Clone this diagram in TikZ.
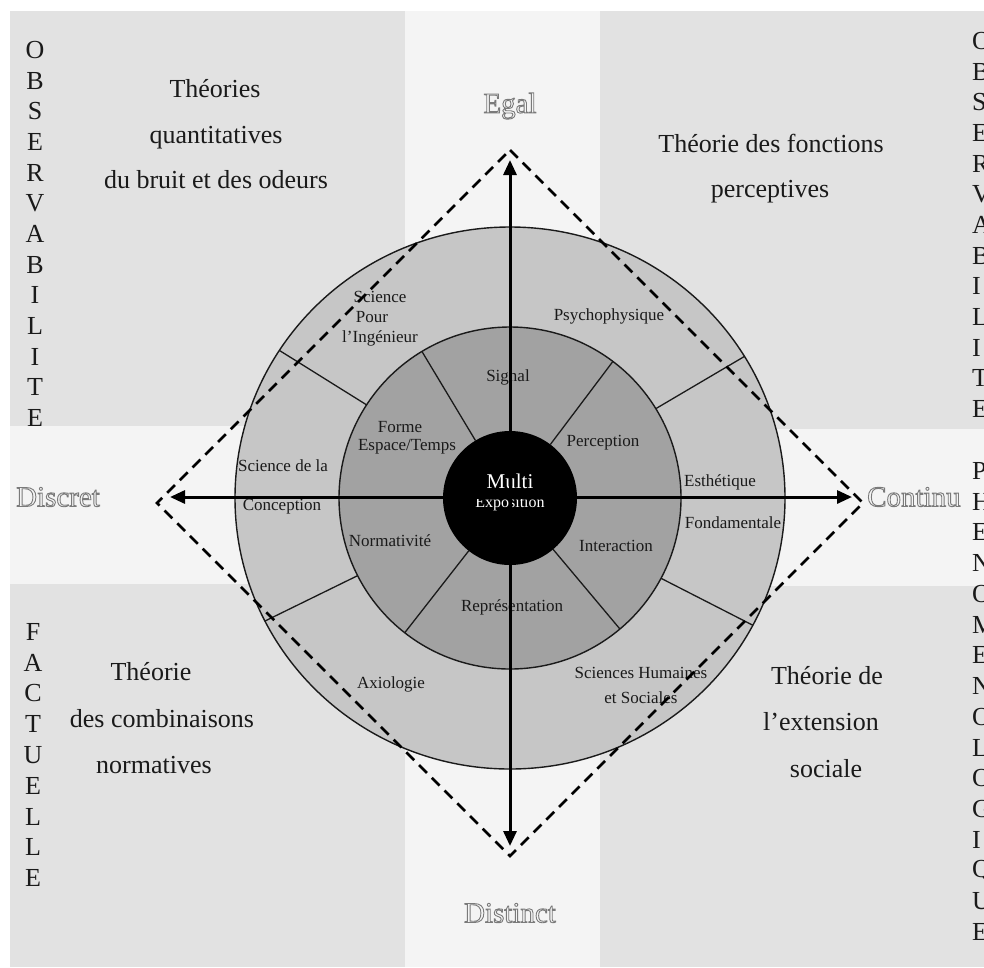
\documentclass[tikz,border=0pt]{standalone}
\usepackage{fontspec}
\setmainfont{Liberation Serif}
\usetikzlibrary{arrows.meta}
\definecolor{panel}{HTML}{E2E2E2}
\definecolor{band}{HTML}{F4F4F4}
\definecolor{ringout}{HTML}{C6C6C6}
\definecolor{ringin}{HTML}{A2A2A2}
\definecolor{ink}{HTML}{1A1A1A}
\definecolor{axlab}{HTML}{7A7A7A}
\newcommand\outlinetext[1]{\special{pdf:literal direct 1 Tr 0.9 w}#1\special{pdf:literal direct 0 Tr}}
\begin{document}
\begin{tikzpicture}[x=1pt,y=-1pt,
  quad/.style={font=\fontsize{26}{30}\selectfont, text=ink, anchor=base, inner sep=0pt},
  letter/.style={font=\fontsize{26}{30}\selectfont, text=ink, inner sep=0pt},
  ring/.style={font=\fontsize{17}{20}\selectfont, text=ink, inner sep=0pt},
  axlabel/.style={font=\fontsize{29}{32}\selectfont, text=axlab, inner sep=0pt},
  spoke/.style={line width=1.3pt, draw=ink},
  axisarrow/.style={line width=3pt, draw=black, {Triangle[length=15pt,width=13pt]}-{Triangle[length=15pt,width=13pt]}},
  diam/.style={line width=2.6pt, draw=black, dash pattern=on 11pt off 7pt}
]
\useasboundingbox (0,0) rectangle (984,967);
% backgrounds
\fill[white] (0,0) rectangle (984,967);
\fill[band] (10,11) rectangle (984,967);
\fill[panel] (10,11) rectangle (405,426);
\fill[panel] (600,11) rectangle (984,429);
\fill[panel] (10,584) rectangle (405,967);
\fill[panel] (600,586) rectangle (984,967);

% wheel
\coordinate (c) at (510,498);
\filldraw[fill=ringout, draw=ink, line width=1.4pt] (c) ellipse [x radius=275, y radius=271];
\filldraw[fill=ringin, draw=ink, line width=1.4pt] (c) circle [radius=171];
\begin{scope}[shift={(510,498)}]
  % inner ring spokes
  \draw[spoke] (-121:67) -- (-121:171);
  \draw[spoke] (-53:67) -- (-53:171);
  \draw[spoke] (128:67) -- (128:171);
  \draw[spoke] (50:67) -- (50:171);
  % outer ring spokes
  \draw[spoke] (-147:171) -- ({275*cos(147)},{-271*sin(147)});
  \draw[spoke] (-31.5:171) -- ({275*cos(31.5)},{-271*sin(31.5)});
  \draw[spoke] (28:171) -- ({275*cos(-28)},{-271*sin(-28)});
  \draw[spoke] (153:171) -- ({275*cos(-153)},{-271*sin(-153)});
\end{scope}
\fill[black] (c) circle [radius=67];

% quadrant theories
\node[quad] (tl1) at (215,97) {Théories};
\node[quad] (tl2) at (216,143) {quantitatives};
\node[quad] (tl3) at (216,188) {du bruit et des odeurs};
\node[quad] (tr1) at (771,152) {Théorie des fonctions};
\node[quad] (tr2) at (770,197) {perceptives};
\node[quad] (bl1) at (151,680) {Théorie};
\node[quad] (bl2) at (162,727) {des combinaisons};
\node[quad] (bl3) at (154,773) {normatives};
\node[quad] (br1) at (827,684) {Théorie de};
\node[quad] (br2) at (821,730) {l’extension};
\node[quad] (br3) at (826,777) {sociale};

% vertical letters
\foreach \ch [count=\i from 0] in {O,B,S,E,R,V,A,B,I,L,I,T,E}
  \node[letter] (lo\i) at (35,{50+30.67*\i}) {\ch};
\foreach \ch [count=\i from 0] in {F,A,C,T,U,E,L,L,E}
  \node[letter] (lf\i) at (33,{632+30.75*\i}) {\ch};
\foreach \ch [count=\i from 0] in {O,B,S,E,R,V,A,B,I,L,I,T,E}
  \node[letter, anchor=west] (ro\i) at (972,{41+30.67*\i}) {\ch};
\foreach \ch [count=\i from 0] in {P,H,E,N,O,M,E,N,O,L,O,G,I,Q,U,E}
  \node[letter, anchor=west] (rp\i) at (972,{471+30.73*\i}) {\ch};

% axis labels (outlined letters)
\node[axlabel] (egal) at (510,106) {\outlinetext{Egal}};
\node[axlabel] (distinct) at (510,913) {\outlinetext{Distinct}};
\node[axlabel] (discret) at (58,497) {\outlinetext{Discret}};
\node[axlabel, anchor=west] (continu) at (867,497) {\outlinetext{Continu}};

% ring labels
\node[ring] (spi1) at (380,297) {Science};
\node[ring] (spi2) at (372,317) {Pour};
\node[ring] (spi3) at (380,338) {l’Ingénieur};
\node[ring] (psy) at (609,316) {Psychophysique};
\node[ring] (sdl1) at (283,466) {Science de la};
\node[ring] (sdl2) at (282,507) {Conception};
\node[ring] (esth) at (720,482) {Esthétique};
\node[ring] (fond) at (733,523) {Fondamentale};
\node[ring] (axio) at (391,684) {Axiologie};
\node[ring] (shs1) at (641,673) {Sciences Humaines};
\node[ring] (shs2) at (641,698) {et Sociales};
\node[ring] (sig) at (508,377) {Signal};
\node[ring] (fe1) at (400,427) {Forme};
\node[ring] (fe2) at (407,447) {Espace/Temps};
\node[ring] (perc) at (603,443) {Perception};
\node[ring] (norm) at (390,541) {Normativité};
\node[ring] (inter) at (616,546) {Interaction};
\node[ring] (repr) at (512,607) {Représentation};
\node[font=\fontsize{21}{24}\selectfont, text=white, inner sep=0pt] (multi) at (510,481) {Multi};
\node[font=\fontsize{16}{18}\selectfont, text=white, inner sep=0pt] (expo) at (510,504) {Exposition};

% dashed diamond
\coordinate (dt) at (510,150);
\coordinate (dr) at (863,503);
\coordinate (db) at (510,856);
\coordinate (dl) at (157,503);
\draw[diam] (dt) -- (dr) -- (db) -- (dl) -- cycle;

% axes
\coordinate (atop) at (510,160);
\coordinate (abot) at (510,846);
\coordinate (alft) at (170,497);
\coordinate (argt) at (852,497);
\draw[axisarrow] (atop) -- (abot);
\draw[axisarrow] (alft) -- (argt);
\end{tikzpicture}
\end{document}
